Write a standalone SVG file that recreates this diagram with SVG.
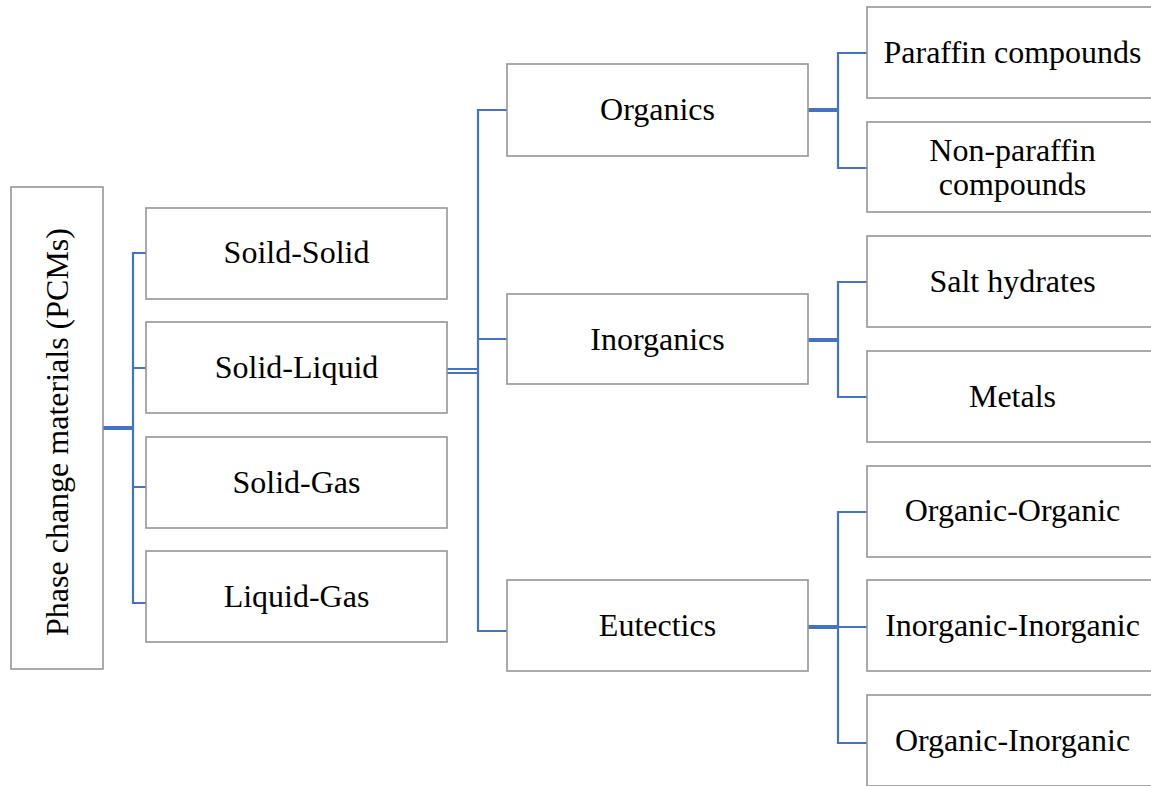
<svg xmlns="http://www.w3.org/2000/svg" width="1151" height="786" viewBox="0 0 1151 786">
<style>
.box{fill:#fff;stroke:#959595;stroke-width:1.6}
.t{font-family:"Liberation Serif","Times New Roman",serif;font-size:32px;fill:#000;text-anchor:middle}
.c{fill:none;stroke:#4472C4;stroke-width:2.2}
.ct{fill:none;stroke:#4472C4;stroke-width:4}
</style>
<rect width="1151" height="786" fill="#fff"/>
<g id="connectors">
<path class="ct" d="M103,428H133"/>
<path class="c" d="M146,253H133V603H146M133,368H146M133,487H146"/>
<path class="c" d="M447,369H478M447,373H478" stroke-width="1.6"/>
<path class="c" d="M507,110H478V631H507M478,339H507"/>
<path class="ct" d="M808,110H838"/>
<path class="c" d="M867,53H838V168H867"/>
<path class="ct" d="M808,340H838"/>
<path class="c" d="M867,282H838V397H867"/>
<path class="ct" d="M808,627H838"/>
<path class="c" d="M867,512H838V743H867M838,627H867"/>
</g>
<g id="pcm"><rect class="box" x="11" y="187" width="92" height="482"/><text class="t" transform="translate(68,432) rotate(-90)">Phase change materials (PCMs)</text></g>
<g id="soild-solid"><rect class="box" x="146" y="208" width="301" height="91"/><text class="t" x="296.5" y="263">Soild-Solid</text></g>
<g id="solid-liquid"><rect class="box" x="146" y="322" width="301" height="91"/><text class="t" x="296.5" y="378">Solid-Liquid</text></g>
<g id="solid-gas"><rect class="box" x="146" y="437" width="301" height="91"/><text class="t" x="296.5" y="493">Solid-Gas</text></g>
<g id="liquid-gas"><rect class="box" x="146" y="551" width="301" height="91"/><text class="t" x="296.5" y="607">Liquid-Gas</text></g>
<g id="organics"><rect class="box" x="507" y="64" width="301" height="92"/><text class="t" x="657.5" y="120">Organics</text></g>
<g id="inorganics"><rect class="box" x="507" y="294" width="301" height="90"/><text class="t" x="657.5" y="350">Inorganics</text></g>
<g id="eutectics"><rect class="box" x="507" y="580" width="301" height="91"/><text class="t" x="657.5" y="636">Eutectics</text></g>
<g id="paraffin"><rect class="box" x="867" y="7" width="292" height="91"/><text class="t" x="1012.5" y="63">Paraffin compounds</text></g>
<g id="non-paraffin"><rect class="box" x="867" y="122" width="292" height="90"/><text class="t" x="1012.5" y="161">Non-paraffin</text><text class="t" x="1012.5" y="195">compounds</text></g>
<g id="salt-hydrates"><rect class="box" x="867" y="236" width="292" height="91"/><text class="t" x="1012.5" y="292">Salt hydrates</text></g>
<g id="metals"><rect class="box" x="867" y="351" width="292" height="91"/><text class="t" x="1012.5" y="407">Metals</text></g>
<g id="organic-organic"><rect class="box" x="867" y="466" width="292" height="91"/><text class="t" x="1012.5" y="521">Organic-Organic</text></g>
<g id="inorganic-inorganic"><rect class="box" x="867" y="580" width="292" height="91"/><text class="t" x="1012.5" y="636">Inorganic-Inorganic</text></g>
<g id="organic-inorganic"><rect class="box" x="867" y="695" width="292" height="91"/><text class="t" x="1012.5" y="751">Organic-Inorganic</text></g>
</svg>
